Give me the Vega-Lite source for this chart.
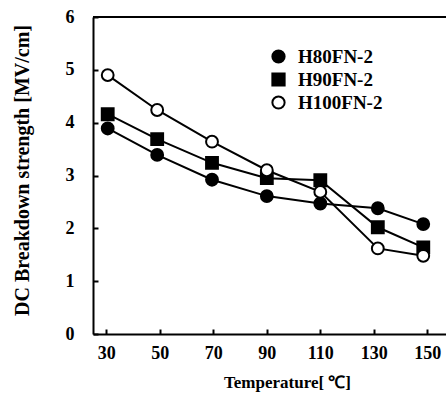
{
  "$schema": "https://vega.github.io/schema/vega-lite/v6.json",
  "width": 353,
  "height": 317,
  "autosize": {"type": "none"},
  "padding": {"left": 93, "top": 17, "right": 0, "bottom": 69},
  "background": "white",
  "config": {
    "view": {"stroke": null},
    "font": "Liberation Serif",
    "axis": {
      "domainColor": "black", "domainWidth": 2,
      "ticks": true, "tickColor": "black", "tickWidth": 2,
      "labelFont": "Liberation Serif", "labelFontWeight": "bold", "labelFontSize": 18, "labelColor": "black",
      "titleFont": "Liberation Serif", "titleFontWeight": "bold", "titleFontSize": 16, "titleColor": "black",
      "grid": false
    }
  },
  "data": {"values": [
    {"T": 30.5, "E": 3.89, "s": "H80FN-2"},
    {"T": 49, "E": 3.39, "s": "H80FN-2"},
    {"T": 69.5, "E": 2.92, "s": "H80FN-2"},
    {"T": 90, "E": 2.61, "s": "H80FN-2"},
    {"T": 110, "E": 2.47, "s": "H80FN-2"},
    {"T": 131.5, "E": 2.38, "s": "H80FN-2"},
    {"T": 148.5, "E": 2.08, "s": "H80FN-2"},
    {"T": 30.5, "E": 4.16, "s": "H90FN-2"},
    {"T": 49, "E": 3.69, "s": "H90FN-2"},
    {"T": 69.5, "E": 3.24, "s": "H90FN-2"},
    {"T": 90, "E": 2.95, "s": "H90FN-2"},
    {"T": 110, "E": 2.91, "s": "H90FN-2"},
    {"T": 131.5, "E": 2.02, "s": "H90FN-2"},
    {"T": 148.5, "E": 1.64, "s": "H90FN-2"},
    {"T": 30.5, "E": 4.90, "s": "H100FN-2"},
    {"T": 49, "E": 4.24, "s": "H100FN-2"},
    {"T": 69.5, "E": 3.64, "s": "H100FN-2"},
    {"T": 90, "E": 3.10, "s": "H100FN-2"},
    {"T": 110, "E": 2.69, "s": "H100FN-2"},
    {"T": 131.5, "E": 1.62, "s": "H100FN-2"},
    {"T": 148.5, "E": 1.48, "s": "H100FN-2"}
  ]},
  "layer": [
    {
      "mark": {"type": "rule", "color": "black", "strokeWidth": 2},
      "encoding": {"y": {"datum": 6, "type": "quantitative", "scale": {"domain": [0, 6]}}}
    },
    {
      "mark": {"type": "line", "color": "black", "strokeWidth": 2},
      "encoding": {
        "x": {"field": "T", "type": "quantitative", "scale": {"domain": [25, 157], "nice": false},
              "axis": {"values": [30, 50, 70, 90, 110, 130, 150], "title": "Temperature[ ℃]", "ticks": true, "tickSize": -5, "labelPadding": 15, "titleX": 194, "titleY": 40, "titleFontSize": 17}},
        "y": {"field": "E", "type": "quantitative", "scale": {"domain": [0, 6], "nice": false},
              "axis": {"values": [0, 1, 2, 3, 4, 5, 6], "title": "DC Breakdown strength [MV/cm]", "ticks": true, "tickSize": -5, "labelPadding": 24, "titleX": -71, "titleY": 153, "titleBaseline": "middle", "titleFontSize": 20}},
        "detail": {"field": "s"}
      }
    },
    {
      "mark": {"type": "point", "filled": false, "stroke": "black", "strokeWidth": 2, "size": 140, "opacity": 1},
      "encoding": {
        "x": {"field": "T", "type": "quantitative"},
        "y": {"field": "E", "type": "quantitative"},
        "shape": {"field": "s", "type": "nominal", "title": null,
                  "scale": {"domain": ["H80FN-2", "H90FN-2", "H100FN-2"], "range": ["circle", "square", "circle"]}},
        "fill": {"field": "s", "type": "nominal", "title": null,
                 "scale": {"domain": ["H80FN-2", "H90FN-2", "H100FN-2"], "range": ["black", "black", "white"]},
                 "legend": {"orient": "none", "legendX": 176, "legendY": 30, "labelFont": "Liberation Serif", "labelFontWeight": "bold", "labelFontSize": 19, "labelColor": "black", "symbolStrokeColor": "black", "symbolStrokeWidth": 2, "symbolSize": 150, "rowPadding": 2, "labelOffset": 10}}
      }
    }
  ]
}
